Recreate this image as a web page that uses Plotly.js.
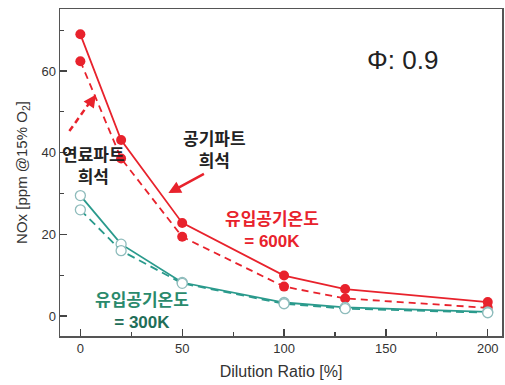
<!DOCTYPE html>
<html><head><meta charset="utf-8">
<script src="https://cdn.plot.ly/plotly-3.0.1.min.js"></script>
<style>html,body{margin:0;padding:0;background:#fff}</style>
</head><body><div id="c" style="width:505px;height:385px"></div>
<script>
const dilution = [0, 20, 50, 100, 130, 200];
const red600Solid = [69.0, 43.1, 22.8, 9.9, 6.6, 3.4];
const red600Dash = [62.4, 38.6, 19.4, 7.2, 4.3, 2.0];
const teal300Solid = [29.5, 17.6, 8.2, 3.3, 2.1, 1.0];
const teal300Dash = [26.0, 16.0, 8.0, 3.0, 1.8, 0.8];
const xTicks = [0, 50, 100, 150, 200];
const yTicks = [0, 20, 40, 60];

const RED = '#e8222c', TEAL = '#2a9a8c';
const traces = [
  {x: dilution, y: red600Solid, mode: 'lines+markers', line: {color: RED, width: 1.8},
   marker: {color: RED, size: 10}},
  {x: dilution, y: red600Dash, mode: 'lines+markers', line: {color: RED, width: 1.8, dash: '7px,5px'},
   marker: {color: RED, size: 10}},
  {x: dilution, y: teal300Solid, mode: 'lines+markers', line: {color: TEAL, width: 1.8},
   marker: {color: '#fff', size: 10, line: {color: '#8fbcbc', width: 1.3}}},
  {x: dilution, y: teal300Dash, mode: 'lines+markers', line: {color: TEAL, width: 1.8, dash: '8px,5px'},
   marker: {color: '#fff', size: 10, line: {color: '#8fbcbc', width: 1.3}}}
];
const kfont = {family: 'Noto Sans CJK KR', size: 17, weight: 'bold'};
const layout = {
  width: 505, height: 385, showlegend: false,
  margin: {l: 60, r: 3, t: 9, b: 49},
  paper_bgcolor: '#fff', plot_bgcolor: '#fff',
  font: {family: 'Liberation Sans, Arial, sans-serif', color: '#333'},
  xaxis: {range: [-10, 207], tickvals: xTicks, ticks: 'inside', ticklen: 7, tickwidth: 1.2, tickcolor: '#444',
    minor: {dtick: 25, ticks: 'inside', ticklen: 4, tickcolor: '#444'},
    showgrid: false, zeroline: false, showline: true, linecolor: '#555', linewidth: 1.5, mirror: true,
    tickfont: {size: 13, color: '#333'},
    title: {text: 'Dilution Ratio [%]', font: {size: 16, color: '#333'}, standoff: 10}},
  yaxis: {range: [-4.9, 75.2], tickvals: yTicks, ticks: 'inside', ticklen: 7, tickwidth: 1.2, tickcolor: '#444',
    minor: {dtick: 10, ticks: 'inside', ticklen: 4, tickcolor: '#444'},
    showgrid: false, zeroline: false, showline: true, linecolor: '#555', linewidth: 1.5, mirror: true,
    tickfont: {size: 13, color: '#333'},
    title: {text: 'NOx [ppm @15% O<sub>2</sub>]', font: {size: 15, color: '#333'}, standoff: 10}},
  shapes: [
    {type: 'line', xref: 'x', yref: 'y', x0: -5.4, y0: 45.3, x1: 5.0, y1: 52.6,
     line: {color: RED, width: 2.5, dash: '6px,4px'}}
  ],
  annotations: [
    {x: 7.6, y: 54.2, ax: 4.0, ay: 51.6, xref: 'x', yref: 'y', axref: 'x', ayref: 'y', text: '',
     showarrow: true, arrowhead: 2, arrowsize: 1, arrowwidth: 2.5, arrowcolor: RED},
    {x: 43.2, y: 30.1, ax: 61.4, ay: 35.0, xref: 'x', yref: 'y', axref: 'x', ayref: 'y', text: '',
     showarrow: true, arrowhead: 2, arrowsize: 1, arrowwidth: 2.5, arrowcolor: RED},
    {x: 6.4, y: 37.2, xref: 'x', yref: 'y', text: '연료파트<br>희석', showarrow: false,
     font: Object.assign({}, kfont, {color: '#222'})},
    {x: 65.8, y: 41.1, xref: 'x', yref: 'y', text: '공기파트<br>희석', showarrow: false,
     font: Object.assign({}, kfont, {color: '#222'})},
    {x: 93.9, y: 21.5, xref: 'x', yref: 'y', text: '유입공기온도<br><span style="font-family:Liberation Sans">= 600K</span>', showarrow: false,
     font: Object.assign({}, kfont, {color: RED})},
    {x: 30.5, y: 1.7, xref: 'x', yref: 'y', text: '유입공기온도<br><span style="font-family:Liberation Sans;color:#1f6e58">= 300K</span>', showarrow: false,
     font: Object.assign({}, kfont, {color: '#2a8a6c'})},
    {x: 158, y: 62.7, xref: 'x', yref: 'y', text: 'Φ: 0.9', showarrow: false,
     font: {family: 'Liberation Sans, Arial', size: 26, color: '#222'}}
  ]
};
Plotly.newPlot('c', traces, layout, {displayModeBar: false, staticPlot: true});
</script></body></html>
